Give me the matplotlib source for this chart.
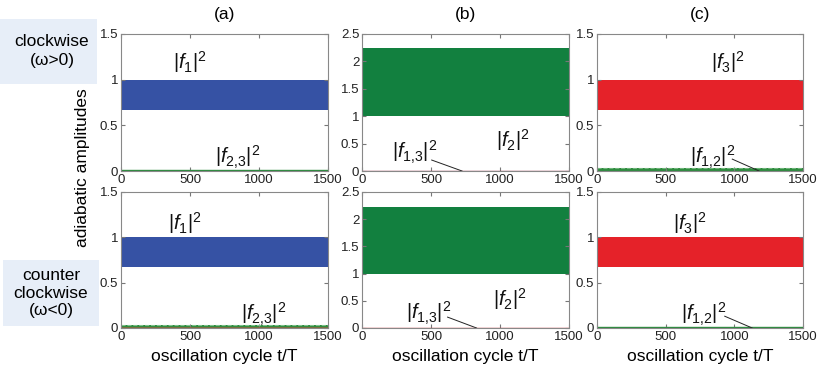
import matplotlib
matplotlib.use('Agg')
import matplotlib.pyplot as plt
from matplotlib.patches import Rectangle
import numpy as np

plt.rcParams['font.family'] = ['Liberation Sans', 'DejaVu Sans']
plt.rcParams['mathtext.fontset'] = 'custom'
plt.rcParams['mathtext.rm'] = 'Liberation Sans'
plt.rcParams['mathtext.it'] = 'Liberation Sans:italic'

# time span (oscillation cycles)
t_span = [0, 1500]

# envelope (low, high) of the fast oscillating amplitudes
f1_cw = [0.67, 1.0]
f23_cw = [0.0, 0.006]
f2_cw = [1.0, 2.25]
f13_cw = [0.0, 0.006]
f3_cw = [0.67, 1.0]
f12_cw = [0.0, 0.03]

f1_ccw = [0.67, 1.0]
f23_ccw = [0.0, 0.03]
f2_ccw = [1.0, 2.23]
f13_ccw = [0.0, 0.006]
f3_ccw = [0.67, 1.0]
f12_ccw = [0.0, 0.006]

ylims = [1.5, 2.5, 1.5]
yticks = [[0, 0.5, 1, 1.5], [0, 0.5, 1, 1.5, 2, 2.5], [0, 0.5, 1, 1.5]]
xticks = [0, 500, 1000, 1500]

blue = '#3652a4'
green = '#12803f'
red = '#e52229'
small_green = '#2e8b3e'
small_red = '#d0343a'

W, H = 817, 366
fig = plt.figure(figsize=(W / 100, H / 100), dpi=100)

lefts = [121, 362, 597]
widths = [207, 207, 206]
rows = [(34, 171), (192, 328)]

axes = []
for r, (top, bot) in enumerate(rows):
    row = []
    for c in range(3):
        ax = fig.add_axes([lefts[c] / W, 1 - bot / H, widths[c] / W, (bot - top) / H])
        ax.set_xlim(0, 1500)
        ax.set_ylim(0, ylims[c])
        ax.set_xticks(xticks)
        ax.set_yticks(yticks[c])
        ax.set_yticklabels([('%g' % v) for v in yticks[c]])
        ax.tick_params(direction='in', length=3, labelsize=9.5, top=True, right=True,
                       color='#777777', labelcolor='#222222', pad=2)
        for s in ax.spines.values():
            s.set_color('#888888')
            s.set_linewidth(0.8)
        row.append(ax)
    axes.append(row)

def band(ax, env, col, lw=0):
    ax.fill_between(t_span, env[0], env[1], color=col, linewidth=lw, edgecolor=col)

# top row: clockwise
band(axes[0][0], f1_cw, blue)
axes[0][0].plot(t_span, [f23_cw[1], f23_cw[1]], color=small_green, lw=1.0)
band(axes[0][1], f2_cw, green)
axes[0][1].plot(t_span, [f13_cw[1], f13_cw[1]], color='#a0304a', lw=1.0)
band(axes[0][2], f3_cw, red)
band(axes[0][2], f12_cw, small_green)
axes[0][2].plot(t_span, [f12_cw[1], f12_cw[1]], color='#6fb57a', lw=0.8, ls='--')

# bottom row: counter clockwise
band(axes[1][0], f1_ccw, blue)
band(axes[1][0], f23_ccw, small_green)
axes[1][0].plot(t_span, [f23_ccw[1], f23_ccw[1]], color='#7fc28a', lw=0.8, ls='--')
axes[1][0].plot(t_span, [0.004, 0.004], color='#8a6a3a', lw=1.2)
band(axes[1][1], f2_ccw, green)
axes[1][1].plot(t_span, [f13_ccw[1], f13_ccw[1]], color=small_red, lw=1.0)
band(axes[1][2], f3_ccw, red)
axes[1][2].plot(t_span, [f12_ccw[1], f12_ccw[1]], color=small_green, lw=1.0)

lab = dict(fontsize=14.5, color='#111111')
# labels, top row
axes[0][0].text(380, 1.12, r'$|f_1|^2$', **lab)
axes[0][0].text(680, 0.08, r'$|f_{2{,}3}|^2$', **lab)
axes[0][1].text(970, 0.45, r'$|f_2|^2$', **lab)
axes[0][1].text(220, 0.22, r'$|f_{1{,}3}|^2$', **lab)
axes[0][1].plot([505, 725], [0.2, 0.0], color='#222222', lw=0.7)
axes[0][2].text(830, 1.12, r'$|f_3|^2$', **lab)
axes[0][2].text(680, 0.08, r'$|f_{1{,}2}|^2$', **lab)
axes[0][2].plot([985, 1180], [0.13, 0.0], color='#222222', lw=0.7)
# labels, bottom row
axes[1][0].text(340, 1.08, r'$|f_1|^2$', **lab)
axes[1][0].text(870, 0.08, r'$|f_{2{,}3}|^2$', **lab)
axes[1][1].text(950, 0.4, r'$|f_2|^2$', **lab)
axes[1][1].text(320, 0.15, r'$|f_{1{,}3}|^2$', **lab)
axes[1][1].plot([620, 830], [0.2, 0.0], color='#222222', lw=0.7)
axes[1][2].text(550, 1.08, r'$|f_3|^2$', **lab)
axes[1][2].text(610, 0.08, r'$|f_{1{,}2}|^2$', **lab)
axes[1][2].plot([930, 1130], [0.13, 0.0], color='#222222', lw=0.7)

# panel titles
for c, name in enumerate(['(a)', '(b)', '(c)']):
    cx = (lefts[c] + widths[c] / 2) / W
    fig.text(cx, 1 - 15 / H, name, ha='center', va='center', fontsize=12.5)

# axis labels
fig.text(83 / W, 1 - 168 / H, 'adiabatic amplitudes', rotation=90,
         ha='center', va='center', fontsize=12.5)
for c in range(3):
    cx = (lefts[c] + widths[c] / 2) / W
    fig.text(cx, 1 - 356 / H, 'oscillation cycle t/T', ha='center', va='center', fontsize=12.5)

# side boxes
box_col = '#e7eef8'
fig.add_artist(Rectangle((0, 1 - 84 / H), 97 / W, 65 / H, transform=fig.transFigure,
                         facecolor=box_col, edgecolor='none'))
fig.add_artist(Rectangle((3 / W, 1 - 326 / H), 96 / W, 66 / H, transform=fig.transFigure,
                         facecolor=box_col, edgecolor='none'))
fig.text(52 / W, 1 - 51 / H, 'clockwise\n(\u03c9>0)', ha='center', va='center',
         fontsize=12.5, linespacing=1.25)
fig.text(51 / W, 1 - 293 / H, 'counter\nclockwise\n(\u03c9<0)', ha='center', va='center',
         fontsize=12.5, linespacing=1.2)

fig.savefig('out.png', dpi=100)
